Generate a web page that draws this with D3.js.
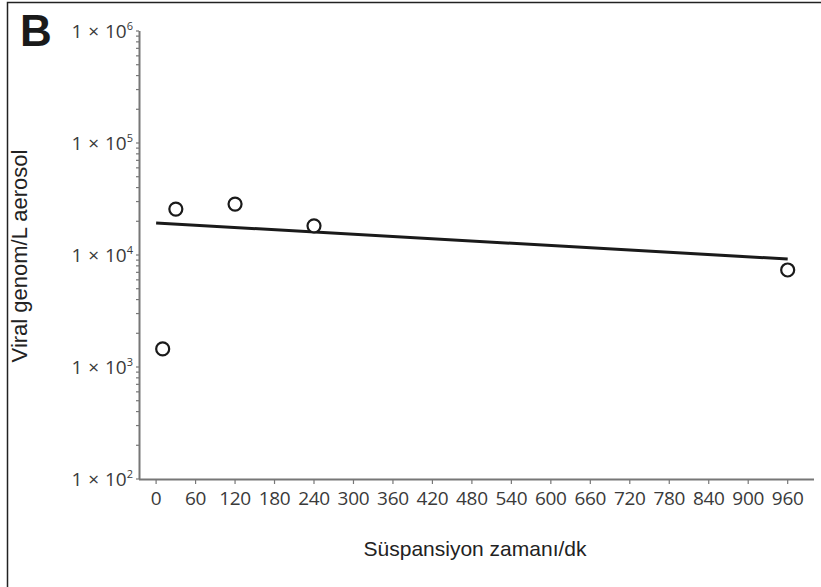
<!DOCTYPE html>
<html>
<head>
<meta charset="utf-8">
<script src="https://cdn.jsdelivr.net/npm/d3@7"></script>
<style>
  body { margin: 0; background: #fff; }
  svg { display: block; }
</style>
</head>
<body>
<div id="chart"></div>
<script>
// measured points (minutes, viral genomes per litre)
const times = [10, 30, 120, 240, 960];
const genomes = [1450, 25700, 28500, 18200, 7350];
// fitted decay line end points
const fitTimes = [0, 960];
const fitValues = [19300, 9200];
const xTicks = [0, 60, 120, 180, 240, 300, 360, 420, 480, 540, 600, 660, 720, 780, 840, 900, 960];
const yExponents = [2, 3, 4, 5, 6];

const width = 821;
const height = 587;

const svg = d3.select("#chart")
              .append("svg")
              .attr("width", width)
              .attr("height", height);

// panel frame
svg.append("rect")
   .attr("x", 7.5)
   .attr("y", 2.5)
   .attr("width", 830)
   .attr("height", 600)
   .attr("fill", "none")
   .attr("stroke", "#222")
   .attr("stroke-width", 1.5);

svg.append("text")
   .attr("x", 20)
   .attr("y", 46)
   .attr("font-family", "Liberation Sans, Arial, sans-serif")
   .attr("font-weight", "bold")
   .attr("font-size", "44px")
   .attr("fill", "#1a1a1a")
   .text("B");

const xScale = d3.scaleLinear()
                 .domain([-26, 1000])
                 .range([139, 814]);

const yScale = d3.scaleLog()
                 .domain([1e2, 1e6])
                 .range([479, 31]);

const axisColor = "#777";
const labelFont = "Open Sans, Lato, sans-serif";

// y axis with minor log ticks
const minor = [];
yExponents.slice(0, -1).forEach(e => {
    for (let m = 1; m <= 9; m++) minor.push(m * Math.pow(10, e));
});
minor.push(1e6);

const yAxis = svg.append("g");
yAxis.append("line")
     .attr("x1", 139.5).attr("x2", 139.5)
     .attr("y1", yScale(1e6)).attr("y2", yScale(1e2))
     .attr("stroke", axisColor)
     .attr("stroke-width", 2);

yAxis.selectAll("line.tick")
     .data(minor)
     .join("line")
     .attr("class", "tick")
     .attr("x1", 136)
     .attr("x2", 139)
     .attr("y1", d => yScale(d))
     .attr("y2", d => yScale(d))
     .attr("stroke", axisColor)
     .attr("stroke-width", 1.2);

const yLabels = yAxis.selectAll("text")
     .data(yExponents)
     .join("text")
     .attr("x", 133)
     .attr("y", d => yScale(Math.pow(10, d)) + 7)
     .attr("text-anchor", "end")
     .attr("font-family", labelFont)
     .attr("font-size", "19px")
     .attr("word-spacing", "1px")
     .attr("fill", "#3a3a3a");
yLabels.append("tspan").text("1 × 10");
yLabels.append("tspan")
       .attr("dy", -8)
       .attr("font-size", "11px")
       .text(d => d);

// x axis
const xAxis = svg.append("g");
xAxis.append("line")
     .attr("x1", 139).attr("x2", 814)
     .attr("y1", 479.5).attr("y2", 479.5)
     .attr("stroke", axisColor)
     .attr("stroke-width", 2);

xAxis.selectAll("line.tick")
     .data(xTicks)
     .join("line")
     .attr("class", "tick")
     .attr("x1", d => xScale(d))
     .attr("x2", d => xScale(d))
     .attr("y1", 480)
     .attr("y2", 484)
     .attr("stroke", axisColor)
     .attr("stroke-width", 1.2);

xAxis.selectAll("text")
     .data(xTicks)
     .join("text")
     .attr("x", d => xScale(d))
     .attr("y", 505)
     .attr("text-anchor", "middle")
     .attr("font-family", labelFont)
     .attr("font-size", "19px")
     .attr("letter-spacing", "-0.3px")
     .attr("fill", "#3a3a3a")
     .text(d => d);

// axis titles
svg.append("text")
   .attr("transform", "translate(27, 256) rotate(-90)")
   .attr("text-anchor", "middle")
   .attr("font-family", "Liberation Sans, Arial, sans-serif")
   .attr("font-size", "22px")
   .attr("fill", "#222")
   .text("Viral genom/L aerosol");

svg.append("text")
   .attr("x", 475)
   .attr("y", 556)
   .attr("text-anchor", "middle")
   .attr("font-family", "Liberation Sans, Arial, sans-serif")
   .attr("font-size", "21px")
   .attr("fill", "#222")
   .text("Süspansiyon zamanı/dk");

// fit line
const fit = fitTimes.map((t, i) => ({ t: t, v: fitValues[i] }));
svg.append("path")
   .datum(fit)
   .attr("d", d3.line().x(d => xScale(d.t)).y(d => yScale(d.v)))
   .attr("fill", "none")
   .attr("stroke", "#1a1a1a")
   .attr("stroke-width", 3);

// data points
const points = times.map((t, i) => ({ t: t, v: genomes[i] }));
svg.selectAll("circle")
   .data(points)
   .join("circle")
   .attr("cx", d => xScale(d.t))
   .attr("cy", d => yScale(d.v))
   .attr("r", 6.5)
   .attr("fill", "#fff")
   .attr("stroke", "#1a1a1a")
   .attr("stroke-width", 2.2);
</script>
</body>
</html>
